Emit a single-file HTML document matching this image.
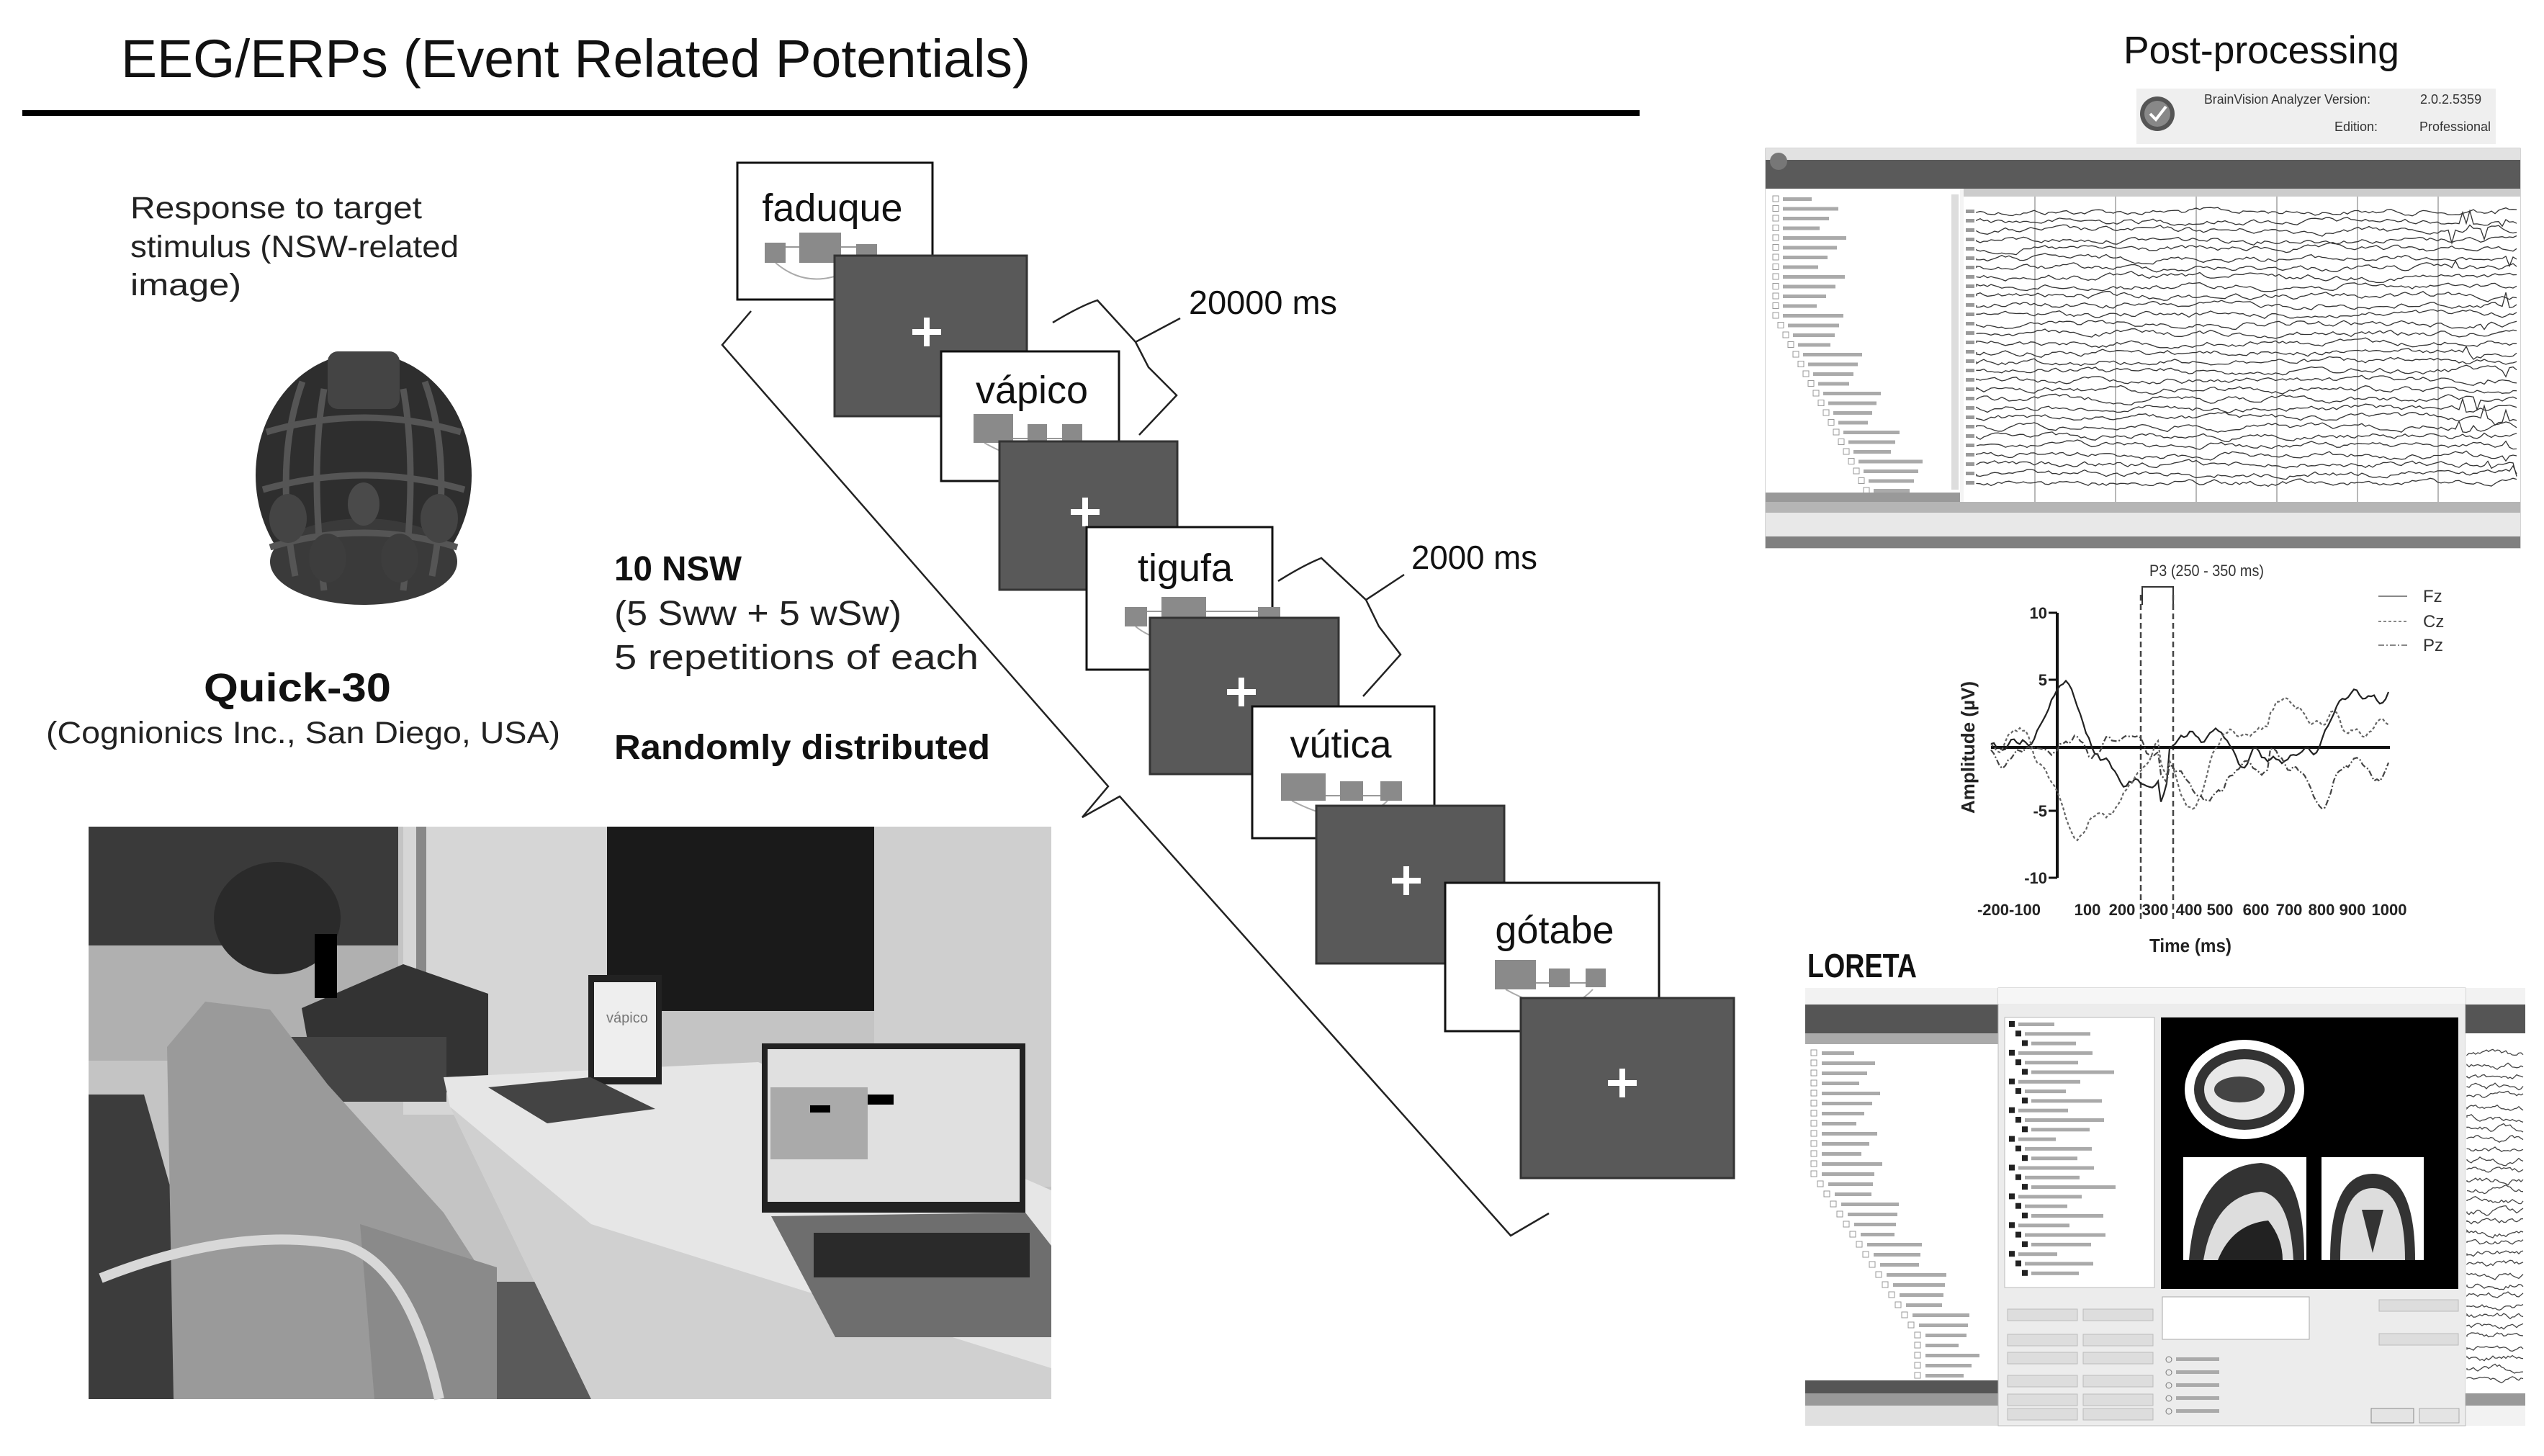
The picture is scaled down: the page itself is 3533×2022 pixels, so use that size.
<!DOCTYPE html>
<html><head><meta charset="utf-8">
<style>
html,body{margin:0;padding:0;background:#fff;}
svg{display:block;}
text{font-family:"Liberation Sans",sans-serif;}
</style></head>
<body>
<svg id="s" width="3533" height="2022" viewBox="0 0 3533 2022" xmlns="http://www.w3.org/2000/svg">
<rect width="3533" height="2022" fill="#fff"/>
<!-- Title -->
<text x="168" y="107" font-size="74" fill="#111" textLength="1263" lengthAdjust="spacingAndGlyphs">EEG/ERPs (Event Related Potentials)</text>
<rect x="31" y="153" width="2246" height="8" fill="#000"/>

<!-- left texts -->
<text x="181" y="303" font-size="43" fill="#222" textLength="405" lengthAdjust="spacingAndGlyphs">Response to target</text>
<text x="181" y="357" font-size="43" fill="#222" textLength="456" lengthAdjust="spacingAndGlyphs">stimulus (NSW-related</text>
<text x="181" y="410" font-size="43" fill="#222" textLength="154" lengthAdjust="spacingAndGlyphs">image)</text>

<!-- headset -->
<g>
<ellipse cx="505" cy="660" rx="150" ry="170" fill="#2e2e2e"/>
<ellipse cx="505" cy="780" rx="130" ry="60" fill="#3a3a3a"/>
<rect x="455" y="488" width="100" height="80" rx="14" fill="#444"/>
<g stroke="#555" stroke-width="9" fill="none">
<path d="M420 530 Q380 640 410 800"/><path d="M450 540 Q430 650 450 820"/><path d="M560 540 Q580 650 560 820"/><path d="M590 530 Q630 640 600 800"/>
<path d="M370 600 Q505 560 640 600"/><path d="M365 680 Q505 640 645 680"/><path d="M375 760 Q505 720 635 760"/>
</g>
<ellipse cx="400" cy="720" rx="26" ry="34" fill="#444"/><ellipse cx="610" cy="720" rx="26" ry="34" fill="#444"/>
<ellipse cx="455" cy="775" rx="26" ry="34" fill="#3d3d3d"/><ellipse cx="555" cy="775" rx="26" ry="34" fill="#3d3d3d"/>
<ellipse cx="505" cy="700" rx="22" ry="30" fill="#4a4a4a"/>
</g>

<text x="283" y="974" font-size="56" font-weight="bold" fill="#111" textLength="260" lengthAdjust="spacingAndGlyphs">Quick-30</text>
<text x="64" y="1032" font-size="43" fill="#222" textLength="714" lengthAdjust="spacingAndGlyphs">(Cognionics Inc., San Diego, USA)</text>

<text x="853" y="806" font-size="48" font-weight="bold" fill="#111" textLength="177" lengthAdjust="spacingAndGlyphs">10 NSW</text>
<text x="853" y="868" font-size="48" fill="#222" textLength="399" lengthAdjust="spacingAndGlyphs">(5 Sww + 5 wSw)</text>
<text x="853" y="929" font-size="48" fill="#222" textLength="506" lengthAdjust="spacingAndGlyphs">5 repetitions of each</text>
<text x="853" y="1054" font-size="48" font-weight="bold" fill="#111" textLength="522" lengthAdjust="spacingAndGlyphs">Randomly distributed</text>

<!-- photo -->
<g>
<rect x="123" y="1148" width="1337" height="795" fill="#c4c4c4"/>
<rect x="560" y="1148" width="300" height="400" fill="#d6d6d6"/>
<rect x="1214" y="1148" width="246" height="500" fill="#cfcfcf"/>
<rect x="123" y="1148" width="430" height="165" fill="#3a3a3a"/>
<rect x="123" y="1313" width="430" height="160" fill="#b0b0b0"/>
<rect x="578" y="1148" width="14" height="380" fill="#888"/>
<rect x="123" y="1780" width="700" height="163" fill="#5a5a5a"/>
<!-- TV -->
<rect x="843" y="1148" width="371" height="256" fill="#1a1a1a"/>
<!-- case -->
<polygon points="419,1400 560,1339 678,1380 678,1517 440,1517" fill="#333"/>
<rect x="380" y="1440" width="240" height="90" fill="#444"/>
<!-- chair back -->
<polygon points="123,1520 200,1520 320,1943 123,1943" fill="#3c3c3c"/>
<!-- body -->
<polygon points="232,1454 285,1391 375,1402 455,1506 616,1684 687,1794 652,1943 241,1943" fill="#9a9a9a"/>
<polygon points="500,1700 690,1760 690,1943 520,1943" fill="#8a8a8a"/>
<!-- chair arm -->
<path d="M140 1775 Q330 1700 480 1730 Q570 1760 610 1943" stroke="#d8d8d8" stroke-width="14" fill="none"/>
<!-- head -->
<ellipse cx="385" cy="1275" rx="88" ry="78" fill="#2a2a2a"/>
<rect x="437" y="1297" width="31" height="89" fill="#000"/>
<!-- desk -->
<polygon points="616,1496 1053,1475 1460,1653 1460,1943 821,1943 625,1537" fill="#e6e6e6"/>
<polygon points="625,1537 821,1700 1460,1900 1460,1943 821,1943" fill="#d0d0d0"/>
<!-- small laptop -->
<rect x="817" y="1354" width="102" height="152" fill="#222"/>
<rect x="825" y="1364" width="86" height="132" fill="#eee"/>
<text x="842" y="1420" font-size="20" fill="#777">vápico</text>
<polygon points="678,1510 820,1496 910,1540 760,1560" fill="#444"/>
<!-- big laptop -->
<rect x="1058" y="1449" width="366" height="235" fill="#222"/>
<rect x="1066" y="1457" width="350" height="212" fill="#e0e0e0"/>
<rect x="1070" y="1510" width="135" height="100" fill="#aaa"/>
<rect x="1125" y="1535" width="28" height="10" fill="#000"/>
<rect x="1205" y="1520" width="36" height="14" fill="#000"/>
<polygon points="1071,1689 1424,1684 1460,1730 1460,1857 1160,1857" fill="#6e6e6e"/>
<rect x="1130" y="1712" width="300" height="62" fill="#2a2a2a"/>
</g>

<!-- stimulus sequence -->
<g id="cards"></g>

<!-- braces -->
<g stroke="#222" stroke-width="2.5" fill="none">
<polyline points="1043,432 1003,479 1539,1092 1503,1135 1555,1106 2098,1716 2151,1685"/>
<path d="M1462,448 Q1500,425 1524,417 L1577,475 L1639,442 M1577,475 L1595,510 L1634,549 L1582,604"/>
<path d="M1775,807 Q1810,785 1835,775 L1897,833 L1950,798 M1897,833 L1915,870 L1945,909 L1893,967"/>
</g>
<text x="1651" y="436" font-size="46" fill="#111" textLength="206" lengthAdjust="spacingAndGlyphs">20000 ms</text>
<text x="1960" y="790" font-size="46" fill="#111" textLength="175" lengthAdjust="spacingAndGlyphs">2000 ms</text>

<!-- right side -->
<text x="2949" y="88" font-size="54" fill="#111" textLength="383" lengthAdjust="spacingAndGlyphs">Post-processing</text>
<rect x="2967" y="123" width="499" height="77" fill="#efefef"/>
<circle cx="2996" cy="158" r="24" fill="#555"/>
<circle cx="2996" cy="158" r="18" fill="#888"/>
<path d="M2986 158 L2994 166 L3008 148" stroke="#fff" stroke-width="4" fill="none"/>
<text x="3061" y="144" font-size="18" fill="#333" textLength="231" lengthAdjust="spacingAndGlyphs">BrainVision Analyzer Version:</text>
<text x="3361" y="144" font-size="18" fill="#333">2.0.2.5359</text>
<text x="3242" y="182" font-size="18" fill="#333">Edition:</text>
<text x="3360" y="182" font-size="18" fill="#333">Professional</text>

<!-- EEG window -->
<g>
<rect x="2452" y="206" width="1048" height="555" fill="#f4f4f4" stroke="#aaa"/>
<rect x="2452" y="206" width="1048" height="16" fill="#e2e2e2"/>
<rect x="2452" y="222" width="1048" height="40" fill="#5a5a5a"/>
<circle cx="2470" cy="224" r="12" fill="#777"/>
<rect x="2452" y="262" width="270" height="428" fill="#fff"/>
<rect x="2710" y="270" width="10" height="410" fill="#ddd"/>
<rect x="2452" y="684" width="270" height="13" fill="#999"/>
<rect x="2727" y="262" width="773" height="435" fill="#fff"/>
<rect x="2727" y="262" width="773" height="11" fill="#ccc"/>
<rect x="2452" y="697" width="1048" height="15" fill="#b5b5b5"/>
<rect x="2452" y="712" width="1048" height="33" fill="#e8e8e8"/>
<rect x="2452" y="745" width="1048" height="16" fill="#808080"/>
<g id="eegtree"></g>
<g id="eeggrid" stroke="#888" stroke-width="1.2"></g>
<g id="eegtraces" stroke="#333" stroke-width="1.3" fill="none"></g>
</g>

<!-- ERP chart -->
<g>
<text x="2985" y="800" font-size="22" fill="#333" textLength="159" lengthAdjust="spacingAndGlyphs">P3 (250 - 350 ms)</text>
<polyline points="2975,840 2975,815 3018,815 3018,840" stroke="#333" stroke-width="2" fill="none"/>
<line x1="2973" y1="826" x2="2973" y2="1277" stroke="#444" stroke-width="2.5" stroke-dasharray="8,5"/>
<line x1="3018" y1="826" x2="3018" y2="1277" stroke="#444" stroke-width="2.5" stroke-dasharray="8,5"/>
<line x1="2857" y1="851" x2="2857" y2="1219" stroke="#111" stroke-width="4"/>
<line x1="2765" y1="1038" x2="3319" y2="1038" stroke="#111" stroke-width="4"/>
<g stroke="#111" stroke-width="3">
<line x1="2845" y1="851" x2="2857" y2="851"/><line x1="2845" y1="944" x2="2857" y2="944"/><line x1="2845" y1="1038" x2="2857" y2="1038"/><line x1="2845" y1="1126" x2="2857" y2="1126"/><line x1="2845" y1="1219" x2="2857" y2="1219"/>
</g>
<g font-size="22" font-weight="bold" fill="#222" text-anchor="end">
<text x="2843" y="859">10</text><text x="2843" y="952">5</text><text x="2843" y="1134">-5</text><text x="2843" y="1227">-10</text>
</g>
<g id="erp" fill="none" stroke-width="2.2"></g>
<g font-size="22" font-weight="bold" fill="#222" text-anchor="middle">
<text x="2790" y="1271">-200-100</text><text x="2899" y="1271">100</text><text x="2947" y="1271">200</text><text x="2993" y="1271">300</text><text x="3040" y="1271">400</text><text x="3083" y="1271">500</text><text x="3133" y="1271">600</text><text x="3179" y="1271">700</text><text x="3224" y="1271">800</text><text x="3267" y="1271">900</text><text x="3318" y="1271">1000</text>
</g>
<text x="2985" y="1322" font-size="26" font-weight="bold" fill="#222" textLength="114" lengthAdjust="spacingAndGlyphs">Time (ms)</text>
<text transform="translate(2742,1038) rotate(-90)" font-size="26" font-weight="bold" fill="#222" text-anchor="middle">Amplitude (µV)</text>
<line x1="3303" y1="828" x2="3343" y2="828" stroke="#888" stroke-width="2"/>
<line x1="3303" y1="863" x2="3343" y2="863" stroke="#888" stroke-width="2" stroke-dasharray="4,3"/>
<line x1="3303" y1="896" x2="3343" y2="896" stroke="#888" stroke-width="2" stroke-dasharray="8,3,2,3"/>
<g font-size="24" fill="#333"><text x="3365" y="836">Fz</text><text x="3365" y="871">Cz</text><text x="3365" y="904">Pz</text></g>
</g>

<text x="2510" y="1357" font-size="46" font-weight="bold" fill="#111" textLength="152" lengthAdjust="spacingAndGlyphs">LORETA</text>

<!-- LORETA window -->
<g>
<rect x="2507" y="1372" width="1000" height="608" fill="#f2f2f2"/>
<rect x="2507" y="1395" width="268" height="40" fill="#555"/>
<rect x="2507" y="1435" width="268" height="15" fill="#aaa"/>
<rect x="2507" y="1450" width="268" height="467" fill="#fff"/>
<rect x="2507" y="1917" width="268" height="18" fill="#555"/>
<rect x="2507" y="1935" width="268" height="17" fill="#999"/>
<rect x="2507" y="1952" width="268" height="28" fill="#e0e0e0"/>
<g id="lortree"></g>
<rect x="2775" y="1372" width="649" height="608" fill="#ececec" stroke="#bbb"/>
<rect x="2775" y="1372" width="649" height="22" fill="#f6f6f6"/>
<rect x="2784" y="1413" width="208" height="375" fill="#fff" stroke="#bbb"/>
<g id="lorlist"></g>
<rect x="3001" y="1413" width="413" height="377" fill="#000"/>
<ellipse cx="3117" cy="1513" rx="83" ry="69" fill="#fff"/>
<ellipse cx="3117" cy="1513" rx="70" ry="56" fill="#333"/>
<ellipse cx="3117" cy="1513" rx="56" ry="42" fill="#e8e8e8"/>
<ellipse cx="3110" cy="1513" rx="35" ry="18" fill="#444"/>
<rect x="3032" y="1607" width="171" height="143" fill="#fff"/>
<path d="M3040 1750 Q3050 1620 3140 1615 Q3200 1620 3200 1750 Z" fill="#333"/>
<path d="M3060 1750 Q3075 1660 3140 1655 Q3180 1660 3185 1750 Z" fill="#ddd"/>
<path d="M3080 1750 Q3100 1700 3150 1695 Q3170 1720 3170 1750 Z" fill="#222"/>
<rect x="3224" y="1607" width="142" height="143" fill="#fff"/>
<path d="M3236 1750 Q3236 1630 3295 1630 Q3354 1630 3354 1750 Z" fill="#333"/>
<path d="M3250 1750 Q3250 1650 3295 1650 Q3340 1650 3340 1750 Z" fill="#ddd"/>
<path d="M3280 1680 L3295 1740 L3310 1680 Z" fill="#333"/>
<rect x="3003" y="1801" width="204" height="59" fill="#fff" stroke="#aaa"/>
<g id="lorbtn"></g>
<rect x="3293" y="1956" width="59" height="20" fill="#e4e4e4" stroke="#888"/>
<rect x="3360" y="1956" width="55" height="20" fill="#e4e4e4" stroke="#aaa"/>
<rect x="3424" y="1395" width="83" height="40" fill="#555"/>
<rect x="3424" y="1435" width="83" height="500" fill="#fff"/>
<rect x="3424" y="1935" width="83" height="17" fill="#999"/>
<g id="lortraces" stroke="#444" stroke-width="1.3" fill="none"></g>
</g>
</svg>
<script>
(function(){
var NS="http://www.w3.org/2000/svg";
var seed=12345;function rnd(){seed=(seed*1103515245+12345)%2147483648;return seed/2147483648;}
function el(p,tag,a,txt){var e=document.createElementNS(NS,tag);for(var k in a)e.setAttribute(k,a[k]);if(txt!==undefined)e.textContent=txt;p.appendChild(e);return e;}
// cards
var cards=[
 {w:"faduque",wx:1024,wy:226,ww:271,wh:190,dx:1159,dy:355,dw:267,dh:223,px:1287,py:461,cx:1156,by:307,sq:[[38,111,29,28],[86,97,58,42],[165,113,29,22]]},
 {w:"vápico",wx:1307,wy:488,ww:247,wh:180,dx:1388,dy:613,dw:247,dh:206,px:1507,py:711,cx:1433,by:560,sq:[[45,87,55,40],[120,101,27,24],[168,101,28,24]]},
 {w:"tigufa",wx:1509,wy:732,ww:258,wh:198,dx:1597,dy:858,dw:262,dh:217,px:1724,py:961,cx:1646,by:807,sq:[[53,111,31,27],[104,97,62,30],[238,111,31,20]]},
 {w:"vútica",wx:1739,wy:981,ww:253,wh:183,dx:1828,dy:1119,dw:261,dh:219,px:1953,py:1223,cx:1862,by:1052,sq:[[40,93,62,38],[122,104,32,27],[178,104,30,27]]},
 {w:"gótabe",wx:2007,wy:1226,ww:297,wh:206,dx:2112,dy:1386,dw:296,dh:250,px:2253,py:1504,cx:2159,by:1310,sq:[[69,107,57,41],[144,119,29,26],[195,119,28,26]]}
];
var g=document.getElementById("cards");
cards.forEach(function(c){
 el(g,"rect",{x:c.wx,y:c.wy,width:c.ww,height:c.wh,fill:"#fff",stroke:"#111","stroke-width":3});
 el(g,"text",{x:c.cx,y:c.by,"font-size":54,fill:"#111","text-anchor":"middle"},c.w);
 var s=c.sq;
 el(g,"line",{x1:c.wx+s[0][0],y1:c.wy+s[1][1]+20,x2:c.wx+s[2][0]+s[2][2],y2:c.wy+s[1][1]+20,stroke:"#999","stroke-width":2});
 el(g,"path",{d:"M"+(c.wx+s[0][0]+15)+" "+(c.wy+s[0][1]+s[0][3])+" Q"+(c.wx+s[1][0]+20)+" "+(c.wy+s[0][1]+s[0][3]+45)+" "+(c.wx+s[2][0]+10)+" "+(c.wy+s[0][1]+s[0][3]),stroke:"#aaa","stroke-width":2,fill:"none"});
 s.forEach(function(q){el(g,"rect",{x:c.wx+q[0],y:c.wy+q[1],width:q[2],height:q[3],fill:"#8a8a8a"});});
 el(g,"rect",{x:c.dx,y:c.dy,width:c.dw,height:c.dh,fill:"#595959",stroke:"#333","stroke-width":3});
 el(g,"rect",{x:c.px-20,y:c.py-4,width:40,height:8,fill:"#fff"});
 el(g,"rect",{x:c.px-4,y:c.py-20,width:8,height:40,fill:"#fff"});
});
// eeg tree
var t=document.getElementById("eegtree");
for(var i=0;i<31;i++){var y=272+i*13.5;var ind=i<13?0:Math.min(i-12,18)*7;
 el(t,"rect",{x:2462+ind,y:y,width:8,height:8,fill:"none",stroke:"#999"});
 el(t,"rect",{x:2476+ind,y:y+2,width:40+((i*37)%50),height:5,fill:"#aaa"});}
var gr=document.getElementById("eeggrid");
[2826,2938,3050,3162,3274,3386].forEach(function(x){el(gr,"line",{x1:x,y1:273,x2:x,y2:697});});
var tr=document.getElementById("eegtraces");
for(var i=0;i<30;i++){var y0=294+i*13;var d="M2745 "+y0;var v=0;
 el(tr,"rect",{x:2730,y:y0-3,width:12,height:5,fill:"#999",stroke:"none"});
 for(var x=2745;x<=3495;x+=5){v=v*0.8+(rnd()-0.5)*6;var a=v;if(x>3400&&rnd()<0.05)a+=(rnd()-0.5)*40;d+=" L"+x+" "+(y0+a).toFixed(1);}
 el(tr,"path",{d:d});}
// erp
var erp=document.getElementById("erp");
var styles=[["#222",""],["#666","4,3"],["#444","8,3,2,3"]];
styles.forEach(function(st,k){var d="";var v=0,v2=0;
 for(var x=2765;x<=3319;x+=4){v=v*0.85+(rnd()-0.5)*2.2;v2=v2*0.9+v*0.3;var amp=v2*18.7*1.2;
  if(x>3000&&x<3010)amp-=40*(k===0?1:0.7);
  if(x>3150)amp+=k*15;
  d+=(d?" L":"M")+x+" "+(1038-amp).toFixed(1);}
 el(erp,"path",{d:d,stroke:st[0],"stroke-dasharray":st[1]});});
// loreta tree
var lt=document.getElementById("lortree");
for(var i=0;i<33;i++){var y=1458+i*14;var ind=i<13?0:Math.min(i-12,16)*9;
 el(lt,"rect",{x:2515+ind,y:y,width:8,height:8,fill:"none",stroke:"#999"});
 el(lt,"rect",{x:2530+ind,y:y+2,width:45+((i*29)%40),height:5,fill:"#aaa"});}
var ll=document.getElementById("lorlist");
for(var i=0;i<27;i++){var y=1418+i*13.3;var ind=[0,9,18][i%3];
 el(ll,"rect",{x:2790+ind,y:y,width:8,height:8,fill:"#222"});
 el(ll,"rect",{x:2803+ind,y:y+2,width:50+((i*41)%70),height:5,fill:"#aaa"});}
var lb=document.getElementById("lorbtn");
[1818,1853,1878,1910,1936,1956].forEach(function(y,i){
 el(lb,"rect",{x:2788,y:y,width:97,height:16,fill:"#ddd",stroke:"#bbb"});
 el(lb,"rect",{x:2893,y:y,width:97,height:16,fill:"#ddd",stroke:"#bbb"});});
[1888,1906,1924,1942,1960].forEach(function(y){el(lb,"circle",{cx:3012,cy:y,r:4,fill:"none",stroke:"#777"});el(lb,"rect",{x:3022,y:y-3,width:60,height:5,fill:"#aaa"});});
el(lb,"rect",{x:3304,y:1805,width:110,height:16,fill:"#ddd",stroke:"#bbb"});
el(lb,"rect",{x:3304,y:1852,width:110,height:16,fill:"#ddd",stroke:"#bbb"});
var lr=document.getElementById("lortraces");
for(var i=0;i<32;i++){var y0=1465+i*14.5;var d="M3426 "+y0;var v=0;
 for(var x=3426;x<=3505;x+=3){v=v*0.8+(rnd()-0.5)*6;d+=" L"+x+" "+(y0+v).toFixed(1);}
 el(lr,"path",{d:d});}
})();
</script>
</body></html>
